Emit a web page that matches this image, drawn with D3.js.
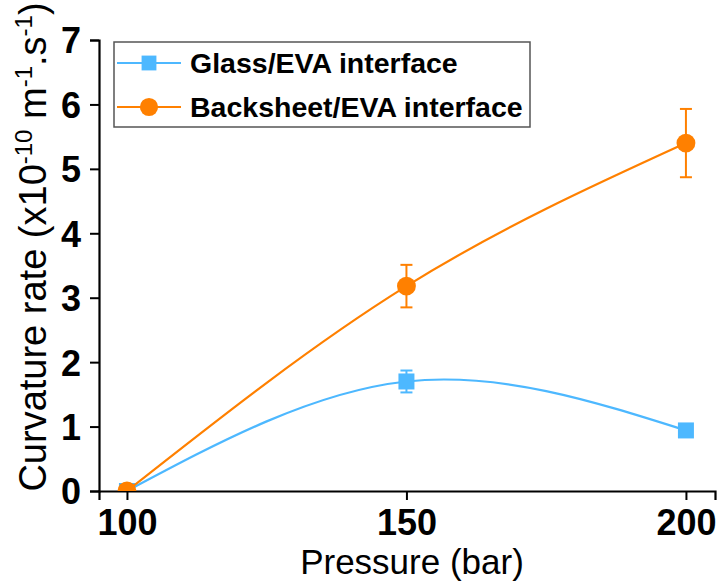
<!DOCTYPE html>
<html>
<head>
<meta charset="utf-8">
<script src="https://cdn.jsdelivr.net/npm/d3@7"></script>
<style>
  body { margin: 0; background: #fff; }
  svg { display: block; font-family: Arial, "Liberation Sans", sans-serif; }
</style>
</head>
<body>
<svg width="721" height="583"></svg>
<script>
(function () {
    'use strict';

    var pressure = [100, 150, 200];
    var glass = [0, 1.70, 0.94];
    var glassErr = [0, 0.17, 0.05];
    var backsheet = [0, 3.18, 5.40];
    var backsheetErr = [0, 0.33, 0.53];
    var xTicks = [100, 150, 200];
    var yTicks = [0, 1, 2, 3, 4, 5, 6, 7];
    var seriesNames = ['Glass/EVA interface', 'Backsheet/EVA interface'];

    var blue = '#4db8ff';
    var orange = '#ff8000';

    var svg = d3.select('svg');
    var left = 99, right = 715, top = 40, bottom = 491;

    var x = d3.scaleLinear().domain([95, 205.2]).range([left, right]);
    var y = d3.scaleLinear().domain([0, 7]).range([bottom, top]);

    svg.append('defs').append('clipPath').attr('id', 'plot')
        .append('rect')
        .attr('x', left).attr('y', top - 20)
        .attr('width', right - left + 10).attr('height', bottom - top + 20);

    // minor ticks first, then major ticks with labels
    var gx = svg.append('g').attr('transform', 'translate(0,' + bottom + ')');
    gx.call(d3.axisBottom(x).tickValues([125, 175]).tickSize(5).tickFormat(''));
    gx.call(d3.axisBottom(x).tickValues(xTicks).tickSize(9).tickPadding(6).tickFormat(d3.format('d')));
    var gy = svg.append('g').attr('transform', 'translate(' + left + ',0)');
    gy.call(d3.axisLeft(y).tickValues(d3.range(0.5, 7, 1)).tickSize(5).tickFormat(''));
    gy.call(d3.axisLeft(y).tickValues(yTicks).tickSize(9).tickPadding(9).tickFormat(d3.format('d')));

    svg.selectAll('.domain').attr('stroke', '#000').attr('stroke-width', 2.2);
    svg.selectAll('.tick line').attr('stroke', '#000').attr('stroke-width', 2);
    svg.selectAll('.tick text')
        .attr('font-family', 'Arial, "Liberation Sans", sans-serif')
        .attr('font-size', 36).attr('font-weight', 'bold').attr('fill', '#000');
    gx.selectAll('.tick text').attr('dy', '0.8em');
    gy.selectAll('.tick text').attr('dy', '0.36em');

    // axis titles
    svg.append('text')
        .attr('x', (left + right) / 2 + 5).attr('y', 574)
        .attr('text-anchor', 'middle')
        .attr('font-size', 35)
        .text('Pressure (bar)');

    var yt = svg.append('text')
        .attr('transform', 'translate(46,' + 247 + ') rotate(-90)')
        .attr('text-anchor', 'middle')
        .attr('font-size', 38);
    yt.append('tspan').text('Curvature rate (x10');
    yt.append('tspan').attr('font-size', 24).attr('dy', -14).text('-10');
    yt.append('tspan').attr('dy', 14).text(' m');
    yt.append('tspan').attr('font-size', 24).attr('dy', -14).text('-1');
    yt.append('tspan').attr('dy', 14).text('.s');
    yt.append('tspan').attr('font-size', 24).attr('dy', -14).text('-1');
    yt.append('tspan').attr('dy', 14).text(')');

    var plot = svg.append('g').attr('clip-path', 'url(#plot)');

    function drawSeries(vals, errs, color, shape) {
        var pts = pressure.map(function (p, i) { return [p, vals[i], errs[i]]; });
        var line = d3.line()
            .x(function (d) { return x(d[0]); })
            .y(function (d) { return y(d[1]); })
            .curve(d3.curveNatural);
        plot.append('path')
            .attr('d', line(pts))
            .attr('fill', 'none')
            .attr('stroke', color)
            .attr('stroke-width', 2.2);

        var eb = plot.append('g').attr('stroke', color).attr('stroke-width', 2);
        pts.filter(function (d) { return d[2] > 0; }).forEach(function (d) {
            var cx = x(d[0]);
            eb.append('line').attr('x1', cx).attr('x2', cx)
                .attr('y1', y(d[1] + d[2])).attr('y2', y(d[1] - d[2]));
            [d[1] + d[2], d[1] - d[2]].forEach(function (v) {
                eb.append('line').attr('x1', cx - 6).attr('x2', cx + 6)
                    .attr('y1', y(v)).attr('y2', y(v));
            });
        });

        plot.selectAll(null).data(pts).enter()
            .append('path')
            .attr('transform', function (d) { return 'translate(' + x(d[0]) + ',' + y(d[1]) + ')'; })
            .attr('d', d3.symbol().type(shape).size(shape === d3.symbolSquare ? 256 : 280))
            .attr('fill', color);
    }

    drawSeries(glass, glassErr, blue, d3.symbolSquare);
    drawSeries(backsheet, backsheetErr, orange, d3.symbolCircle);

    // legend
    var lg = svg.append('g');
    lg.append('rect')
        .attr('x', 114).attr('y', 42).attr('width', 416).attr('height', 85)
        .attr('fill', '#fff').attr('stroke', '#555').attr('stroke-width', 1.5);
    var legendItems = [
        { name: seriesNames[0], color: blue, shape: d3.symbolSquare, size: 220 },
        { name: seriesNames[1], color: orange, shape: d3.symbolCircle, size: 260 }
    ];
    legendItems.forEach(function (it, i) {
        var cy = 63 + i * 44;
        lg.append('line').attr('x1', 117).attr('x2', 181)
            .attr('y1', cy).attr('y2', cy)
            .attr('stroke', it.color).attr('stroke-width', 2);
        lg.append('path')
            .attr('transform', 'translate(149,' + cy + ')')
            .attr('d', d3.symbol().type(it.shape).size(it.size))
            .attr('fill', it.color);
        lg.append('text')
            .attr('x', 190).attr('y', cy + 10)
            .attr('font-size', 28.5).attr('font-weight', 'bold')
            .text(it.name);
    });
}());
</script>
</body>
</html>
